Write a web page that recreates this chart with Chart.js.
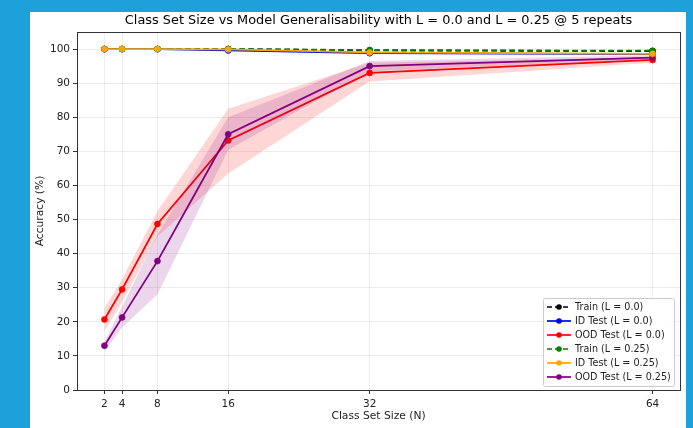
<!DOCTYPE html>
<html>
<head>
<meta charset="utf-8">
<script src="https://cdn.jsdelivr.net/npm/chart.js@4.4.1/dist/chart.umd.min.js"></script>
<style>
  html, body { margin: 0; padding: 0; background: #1ea0da; }
  body { width: 693px; height: 428px; position: relative; overflow: hidden; }
  #panel { position: absolute; left: 30px; top: 12px; width: 656px; height: 416px; background: #fff; }
  #chart { display: block; }
</style>
</head>
<body>
<div id="panel"><canvas id="chart" width="656" height="416"></canvas></div>
<script>
// data
const classSizes = [2, 4, 8, 16, 32, 64];
const xTickLabels = [2, 4, 8, 16, 32, 64];
const yTickLabels = [0, 10, 20, 30, 40, 50, 60, 70, 80, 90, 100];

const trainL0 = [100, 100, 100, 100, 99.6, 99.4];
const idL0 = [100, 100, 100, 99.6, 98.8, 98.5];
const oodL0 = [20.7, 29.5, 48.7, 73.2, 93.0, 96.8];
const trainL25 = [100, 100, 100, 100, 99.7, 99.5];
const idL25 = [100, 100, 100, 99.9, 99.0, 98.6];
const oodL25 = [13.0, 21.3, 37.8, 75.0, 95.0, 97.5];

const oodL0Low = [17.2, 25.8, 45.0, 63.5, 90.5, 96.0];
const oodL0High = [24.0, 32.5, 52.5, 82.5, 96.0, 97.6];
const oodL25Low = [11.2, 18.3, 28.0, 70.5, 93.5, 97.0];
const oodL25High = [14.0, 24.5, 45.5, 80.0, 96.5, 98.2];

function pts(arr) {
  return arr.map((v, i) => ({ x: classSizes[i], y: v }));
}

function line(label, values, color, dashed, order) {
  return {
    label: label,
    data: pts(values),
    borderColor: color,
    backgroundColor: color,
    pointBackgroundColor: color,
    pointBorderColor: color,
    borderWidth: 1.8,
    borderDash: dashed ? [5.5, 3.5] : [],
    pointRadius: 3,
    pointHoverRadius: 3,
    pointBorderWidth: 0.6,
    fill: false,
    tension: 0,
    order: order
  };
}

function band(values, fillColor, fillTarget, order) {
  return {
    label: '',
    data: pts(values),
    borderColor: 'rgba(0,0,0,0)',
    borderWidth: 0,
    pointRadius: 0,
    backgroundColor: fillColor,
    fill: fillTarget,
    tension: 0,
    order: order
  };
}

// higher order is painted first
const datasets = [
  line('Train (L = 0.0)', trainL0, '#000000', true, 12),        // 0
  line('ID Test (L = 0.0)', idL0, '#0000ff', false, 11),        // 1
  line('OOD Test (L = 0.0)', oodL0, '#ff0000', false, 10),      // 2
  line('Train (L = 0.25)', trainL25, '#008000', true, 5),       // 3
  line('ID Test (L = 0.25)', idL25, '#ffa500', false, 1),       // 4
  line('OOD Test (L = 0.25)', oodL25, '#800080', false, 2),     // 5
  band(oodL0Low, 'rgba(0,0,0,0)', false, 14),                   // 6
  band(oodL0High, 'rgba(255,0,0,0.16)', 6, 13),                 // 7
  band(oodL25Low, 'rgba(0,0,0,0)', false, 8),                   // 8
  band(oodL25High, 'rgba(128,0,128,0.16)', 8, 7)                // 9
];

const fontFamily = "'DejaVu Sans', sans-serif";

const framePlugin = {
  id: 'frame',
  afterDraw(chart) {
    const a = chart.chartArea, ctx = chart.ctx;
    ctx.save();
    ctx.strokeStyle = '#333';
    ctx.lineWidth = 1;
    ctx.strokeRect(Math.round(a.left) + 0.5, Math.round(a.top) + 0.5, Math.round(a.right - a.left), Math.round(a.bottom - a.top));
    // title
    ctx.fillStyle = '#000';
    ctx.font = '12.9px ' + fontFamily;
    ctx.textAlign = 'center';
    ctx.textBaseline = 'middle';
    ctx.fillText('Class Set Size vs Model Generalisability with L = 0.0 and L = 0.25 @ 5 repeats', (a.left + a.right) / 2, 8.5);

    // legend in lower right
    const items = chart.data.datasets.slice(0, 6);
    const rowH = 14;
    const boxW = 131, boxH = items.length * rowH + 4;
    const bx = a.right - 6 - boxW, by = a.bottom - 4 - boxH;
    ctx.fillStyle = 'rgba(255,255,255,0.85)';
    ctx.strokeStyle = '#ccc';
    ctx.beginPath();
    ctx.roundRect(bx + 0.5, by + 0.5, boxW, boxH, 2);
    ctx.fill();
    ctx.stroke();
    ctx.font = '9.6px ' + fontFamily;
    ctx.textAlign = 'left';
    items.forEach((d, i) => {
      const y = by + 2 + rowH / 2 + i * rowH;
      ctx.strokeStyle = d.borderColor;
      ctx.lineWidth = 1.7;
      ctx.setLineDash(d.borderDash.length ? [5, 3] : []);
      ctx.beginPath();
      ctx.moveTo(bx + 4, y);
      ctx.lineTo(bx + 28, y);
      ctx.stroke();
      ctx.setLineDash([]);
      ctx.fillStyle = d.borderColor;
      ctx.beginPath();
      ctx.arc(bx + 16, y, 2.8, 0, Math.PI * 2);
      ctx.fill();
      ctx.fillStyle = '#222';
      ctx.fillText(d.label, bx + 32, y + 0.5);
    });
    ctx.restore();
  }
};

new Chart(document.getElementById('chart'), {
  type: 'line',
  data: { datasets: datasets },
  plugins: [framePlugin],
  options: {
    responsive: false,
    animation: false,
    layout: { padding: { top: 20, right: 6, left: 0, bottom: 0 } },
    plugins: {
      legend: { display: false },
      title: { display: false },
      tooltip: { enabled: false },
      filler: { propagate: false }
    },
    scales: {
      x: {
        type: 'linear',
        min: -1.1,
        max: 67.1,
        afterBuildTicks(scale) {
          scale.ticks = xTickLabels.map(v => ({ value: v }));
        },
        afterFit(scale) { scale.height = 38; },
        grid: { color: 'rgba(0,0,0,0.07)', tickColor: '#333', tickLength: 4, drawTicks: true },
        border: { color: '#333', width: 1 },
        ticks: { color: '#222', font: { family: fontFamily, size: 10.5 }, padding: 4, maxRotation: 0, autoSkip: false },
        title: { display: true, text: 'Class Set Size (N)', color: '#222', font: { family: fontFamily, size: 10.7 }, padding: { top: 0, bottom: 5 } }
      },
      y: {
        min: 0,
        max: 105,
        afterBuildTicks(scale) {
          scale.ticks = yTickLabels.map(v => ({ value: v }));
        },
        afterFit(scale) { scale.width = 47; },
        grid: { color: 'rgba(0,0,0,0.07)', tickColor: '#333', tickLength: 4, drawTicks: true },
        border: { color: '#333', width: 1 },
        ticks: { color: '#222', font: { family: fontFamily, size: 10.5 }, padding: 3 },
        title: { display: true, text: 'Accuracy (%)', color: '#222', font: { family: fontFamily, size: 10.7 }, padding: { top: 4, bottom: 0 } }
      }
    }
  }
});
</script>
</body>
</html>
